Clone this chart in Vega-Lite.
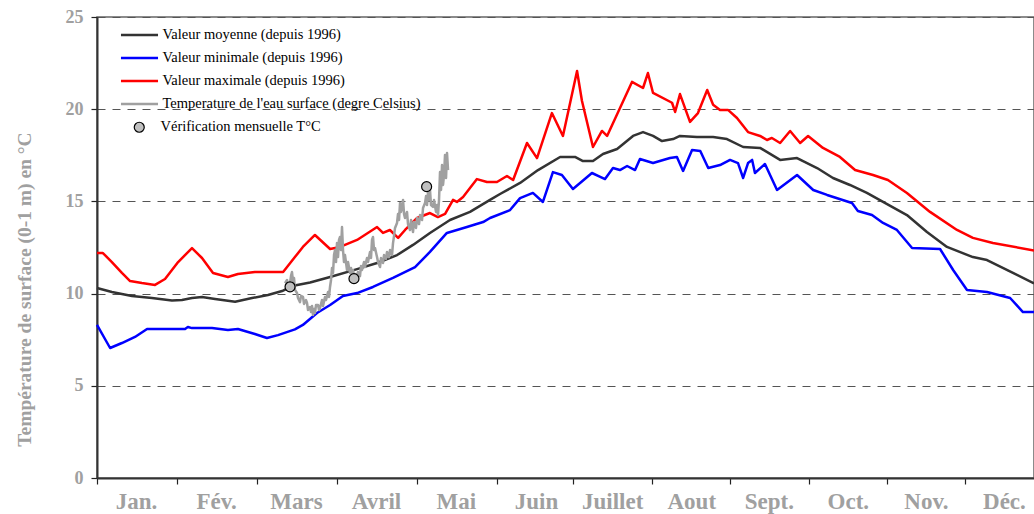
{
  "$schema": "https://vega.github.io/schema/vega-lite/v6.json",
  "width": 937,
  "height": 461,
  "autosize": {"type": "none"},
  "padding": {"left": 97, "top": 17, "right": 0, "bottom": 36},
  "background": "white",
  "config": {"view": {"stroke": "#666", "strokeWidth": 1.5}, "font": "Liberation Serif"},
  "datasets": {
    "lines": [
      {"s":"moy","d":0,"v":10.30},{"s":"moy","d":5.8,"v":10.09},{"s":"moy","d":13.6,"v":9.87},{"s":"moy","d":21.4,"v":9.76},{"s":"moy","d":29.2,"v":9.62},{"s":"moy","d":33.1,"v":9.65},{"s":"moy","d":37.0,"v":9.76},{"s":"moy","d":40.9,"v":9.82},{"s":"moy","d":46.0,"v":9.71},{"s":"moy","d":53.8,"v":9.56},{"s":"moy","d":60.4,"v":9.76},{"s":"moy","d":66.6,"v":9.92},{"s":"moy","d":72.1,"v":10.14},{"s":"moy","d":76.0,"v":10.41},{"s":"moy","d":83.0,"v":10.60},{"s":"moy","d":90.8,"v":10.90},{"s":"moy","d":101.3,"v":11.33},{"s":"moy","d":109.1,"v":11.66},{"s":"moy","d":116.9,"v":12.09},{"s":"moy","d":123.1,"v":12.64},{"s":"moy","d":129.7,"v":13.29},{"s":"moy","d":137.5,"v":13.99},{"s":"moy","d":145.3,"v":14.43},{"s":"moy","d":153.1,"v":15.08},{"s":"moy","d":157.0,"v":15.40},{"s":"moy","d":164.8,"v":16.0},{"s":"moy","d":171.8,"v":16.70},{"s":"moy","d":180.4,"v":17.41},{"s":"moy","d":186.2,"v":17.41},{"s":"moy","d":189.3,"v":17.19},{"s":"moy","d":193.2,"v":17.19},{"s":"moy","d":197.1,"v":17.57},{"s":"moy","d":202.6,"v":17.84},{"s":"moy","d":208.8,"v":18.55},{"s":"moy","d":212.7,"v":18.76},{"s":"moy","d":216.6,"v":18.55},{"s":"moy","d":220.1,"v":18.27},{"s":"moy","d":224.4,"v":18.38},{"s":"moy","d":227.1,"v":18.55},{"s":"moy","d":233.7,"v":18.49},{"s":"moy","d":240.0,"v":18.49},{"s":"moy","d":245.4,"v":18.38},{"s":"moy","d":251.7,"v":17.95},{"s":"moy","d":258.3,"v":17.90},{"s":"moy","d":266.1,"v":17.25},{"s":"moy","d":272.7,"v":17.35},{"s":"moy","d":280.5,"v":16.81},{"s":"moy","d":286.7,"v":16.27},{"s":"moy","d":293.3,"v":15.89},{"s":"moy","d":299.9,"v":15.46},{"s":"moy","d":306.2,"v":14.97},{"s":"moy","d":315.5,"v":14.26},{"s":"moy","d":323.3,"v":13.34},{"s":"moy","d":331.1,"v":12.53},{"s":"moy","d":341.2,"v":11.98},{"s":"moy","d":346.7,"v":11.82},{"s":"moy","d":356.8,"v":11.12},{"s":"moy","d":365,"v":10.55},
      {"s":"max","d":0,"v":12.20},{"s":"max","d":2.3,"v":12.20},{"s":"max","d":5.8,"v":11.71},{"s":"max","d":9.7,"v":11.12},{"s":"max","d":12.9,"v":10.68},{"s":"max","d":17.5,"v":10.57},{"s":"max","d":22.6,"v":10.47},{"s":"max","d":26.5,"v":10.79},{"s":"max","d":31.6,"v":11.71},{"s":"max","d":37.0,"v":12.47},{"s":"max","d":40.9,"v":11.93},{"s":"max","d":45.2,"v":11.12},{"s":"max","d":51.0,"v":10.90},{"s":"max","d":54.9,"v":11.06},{"s":"max","d":61.5,"v":11.17},{"s":"max","d":72.5,"v":11.17},{"s":"max","d":77.1,"v":11.98},{"s":"max","d":80.2,"v":12.53},{"s":"max","d":84.9,"v":13.18},{"s":"max","d":90.8,"v":12.42},{"s":"max","d":94.7,"v":12.53},{"s":"max","d":101.3,"v":12.91},{"s":"max","d":109.1,"v":13.61},{"s":"max","d":111.4,"v":13.29},{"s":"max","d":114.1,"v":13.45},{"s":"max","d":117.3,"v":13.02},{"s":"max","d":120.0,"v":13.45},{"s":"max","d":124.7,"v":14.10},{"s":"max","d":129.7,"v":14.37},{"s":"max","d":132.8,"v":14.15},{"s":"max","d":135.6,"v":14.32},{"s":"max","d":138.7,"v":15.08},{"s":"max","d":140.2,"v":14.97},{"s":"max","d":142.6,"v":15.24},{"s":"max","d":148.0,"v":16.21},{"s":"max","d":151.9,"v":16.05},{"s":"max","d":155.8,"v":16.05},{"s":"max","d":159.7,"v":16.38},{"s":"max","d":162.1,"v":16.16},{"s":"max","d":167.5,"v":18.17},{"s":"max","d":171.4,"v":17.35},{"s":"max","d":177.2,"v":19.79},{"s":"max","d":181.5,"v":18.55},{"s":"max","d":187.0,"v":22.07},{"s":"max","d":188.9,"v":20.46},{"s":"max","d":193.2,"v":17.95},{"s":"max","d":196.7,"v":18.82},{"s":"max","d":198.7,"v":18.55},{"s":"max","d":208.4,"v":21.48},{"s":"max","d":212.7,"v":21.15},{"s":"max","d":214.6,"v":21.96},{"s":"max","d":216.6,"v":20.88},{"s":"max","d":224.0,"v":20.35},{"s":"max","d":225.2,"v":19.85},{"s":"max","d":227.1,"v":20.82},{"s":"max","d":231.0,"v":19.31},{"s":"max","d":234.1,"v":19.79},{"s":"max","d":237.7,"v":21.04},{"s":"max","d":240.0,"v":20.24},{"s":"max","d":242.7,"v":19.96},{"s":"max","d":245.8,"v":19.96},{"s":"max","d":249.3,"v":19.52},{"s":"max","d":253.6,"v":18.76},{"s":"max","d":258.3,"v":18.55},{"s":"max","d":261.0,"v":18.33},{"s":"max","d":262.9,"v":18.44},{"s":"max","d":266.1,"v":18.17},{"s":"max","d":270.0,"v":18.82},{"s":"max","d":273.9,"v":18.17},{"s":"max","d":277.0,"v":18.55},{"s":"max","d":282.8,"v":17.90},{"s":"max","d":289.4,"v":17.41},{"s":"max","d":295.3,"v":16.70},{"s":"max","d":302.3,"v":16.43},{"s":"max","d":308.1,"v":16.16},{"s":"max","d":315.5,"v":15.46},{"s":"max","d":324.5,"v":14.43},{"s":"max","d":335.0,"v":13.45},{"s":"max","d":341.2,"v":13.02},{"s":"max","d":349.0,"v":12.74},{"s":"max","d":365,"v":12.34},
      {"s":"min","d":0,"v":8.30},{"s":"min","d":5.1,"v":7.05},{"s":"min","d":9.7,"v":7.32},{"s":"min","d":14.8,"v":7.65},{"s":"min","d":19.5,"v":8.08},{"s":"min","d":26.5,"v":8.08},{"s":"min","d":34.3,"v":8.08},{"s":"min","d":35.4,"v":8.19},{"s":"min","d":37.0,"v":8.13},{"s":"min","d":44.8,"v":8.13},{"s":"min","d":51.0,"v":8.03},{"s":"min","d":54.9,"v":8.08},{"s":"min","d":61.5,"v":7.81},{"s":"min","d":66.2,"v":7.59},{"s":"min","d":70.5,"v":7.75},{"s":"min","d":77.1,"v":8.06},{"s":"min","d":80.2,"v":8.30},{"s":"min","d":85.7,"v":8.95},{"s":"min","d":90.8,"v":9.38},{"s":"min","d":95.8,"v":9.87},{"s":"min","d":101.3,"v":10.03},{"s":"min","d":107.5,"v":10.36},{"s":"min","d":115.3,"v":10.85},{"s":"min","d":123.9,"v":11.44},{"s":"min","d":129.7,"v":12.26},{"s":"min","d":136.3,"v":13.29},{"s":"min","d":144.1,"v":13.61},{"s":"min","d":150.4,"v":13.88},{"s":"min","d":153.1,"v":14.10},{"s":"min","d":160.9,"v":14.53},{"s":"min","d":164.8,"v":15.18},{"s":"min","d":169.8,"v":15.46},{"s":"min","d":173.7,"v":14.97},{"s":"min","d":177.6,"v":16.59},{"s":"min","d":181.1,"v":16.43},{"s":"min","d":185.4,"v":15.67},{"s":"min","d":192.8,"v":16.54},{"s":"min","d":195.2,"v":16.38},{"s":"min","d":197.9,"v":16.21},{"s":"min","d":201.0,"v":16.81},{"s":"min","d":203.7,"v":16.70},{"s":"min","d":206.5,"v":16.92},{"s":"min","d":209.6,"v":16.70},{"s":"min","d":211.5,"v":17.30},{"s":"min","d":216.6,"v":17.08},{"s":"min","d":223.2,"v":17.35},{"s":"min","d":225.9,"v":17.41},{"s":"min","d":228.3,"v":16.65},{"s":"min","d":231.8,"v":17.79},{"s":"min","d":235.0,"v":17.73},{"s":"min","d":238.1,"v":16.81},{"s":"min","d":242.7,"v":16.97},{"s":"min","d":246.6,"v":17.25},{"s":"min","d":249.7,"v":17.08},{"s":"min","d":251.7,"v":16.27},{"s":"min","d":253.6,"v":17.08},{"s":"min","d":255.2,"v":17.25},{"s":"min","d":256.3,"v":16.54},{"s":"min","d":260.2,"v":17.03},{"s":"min","d":264.9,"v":15.62},{"s":"min","d":272.7,"v":16.43},{"s":"min","d":279.0,"v":15.62},{"s":"min","d":284.4,"v":15.35},{"s":"min","d":294.1,"v":14.91},{"s":"min","d":296.4,"v":14.48},{"s":"min","d":301.9,"v":14.26},{"s":"min","d":306.2,"v":13.83},{"s":"min","d":311.6,"v":13.45},{"s":"min","d":317.5,"v":12.47},{"s":"min","d":328.4,"v":12.42},{"s":"min","d":333.5,"v":11.28},{"s":"min","d":338.9,"v":10.20},{"s":"min","d":346.7,"v":10.09},{"s":"min","d":355.7,"v":9.76},{"s":"min","d":360.7,"v":9.0},{"s":"min","d":365,"v":9.0},
      {"s":"eau","d":73.24,"v":10.57},{"s":"eau","d":74.02,"v":10.74},{"s":"eau","d":74.80,"v":10.20},{"s":"eau","d":75.57,"v":10.95},{"s":"eau","d":75.96,"v":11.17},{"s":"eau","d":76.35,"v":10.63},{"s":"eau","d":76.74,"v":10.85},{"s":"eau","d":77.13,"v":10.20},{"s":"eau","d":77.91,"v":10.03},{"s":"eau","d":78.30,"v":9.76},{"s":"eau","d":79.08,"v":9.54},{"s":"eau","d":79.47,"v":9.87},{"s":"eau","d":80.25,"v":9.82},{"s":"eau","d":80.64,"v":9.44},{"s":"eau","d":81.42,"v":9.65},{"s":"eau","d":81.81,"v":9.49},{"s":"eau","d":82.20,"v":9.11},{"s":"eau","d":82.98,"v":9.27},{"s":"eau","d":83.37,"v":9.00},{"s":"eau","d":83.76,"v":9.33},{"s":"eau","d":84.14,"v":8.84},{"s":"eau","d":84.53,"v":9.16},{"s":"eau","d":84.92,"v":8.95},{"s":"eau","d":85.31,"v":9.38},{"s":"eau","d":86.09,"v":9.38},{"s":"eau","d":86.48,"v":9.11},{"s":"eau","d":86.87,"v":9.22},{"s":"eau","d":87.65,"v":9.65},{"s":"eau","d":88.04,"v":9.33},{"s":"eau","d":88.82,"v":9.82},{"s":"eau","d":89.21,"v":9.65},{"s":"eau","d":89.99,"v":10.09},{"s":"eau","d":90.38,"v":9.82},{"s":"eau","d":90.77,"v":10.36},{"s":"eau","d":91.16,"v":10.74},{"s":"eau","d":91.55,"v":11.39},{"s":"eau","d":91.94,"v":11.12},{"s":"eau","d":92.33,"v":12.09},{"s":"eau","d":92.72,"v":12.36},{"s":"eau","d":93.10,"v":11.71},{"s":"eau","d":93.49,"v":12.74},{"s":"eau","d":93.88,"v":11.98},{"s":"eau","d":94.27,"v":12.91},{"s":"eau","d":94.66,"v":13.07},{"s":"eau","d":95.05,"v":12.36},{"s":"eau","d":95.44,"v":13.61},{"s":"eau","d":95.83,"v":12.36},{"s":"eau","d":96.22,"v":11.71},{"s":"eau","d":96.61,"v":12.09},{"s":"eau","d":97.39,"v":11.28},{"s":"eau","d":97.78,"v":11.71},{"s":"eau","d":98.56,"v":11.12},{"s":"eau","d":98.95,"v":11.39},{"s":"eau","d":99.34,"v":10.95},{"s":"eau","d":99.73,"v":11.28},{"s":"eau","d":100.51,"v":10.63},{"s":"eau","d":100.90,"v":11.06},{"s":"eau","d":101.29,"v":10.74},{"s":"eau","d":101.68,"v":11.17},{"s":"eau","d":102.45,"v":10.95},{"s":"eau","d":102.84,"v":11.50},{"s":"eau","d":103.23,"v":11.28},{"s":"eau","d":104.01,"v":11.71},{"s":"eau","d":104.40,"v":11.44},{"s":"eau","d":105.18,"v":11.93},{"s":"eau","d":105.57,"v":11.71},{"s":"eau","d":106.35,"v":12.26},{"s":"eau","d":106.74,"v":11.93},{"s":"eau","d":107.13,"v":12.91},{"s":"eau","d":107.52,"v":13.07},{"s":"eau","d":107.91,"v":12.36},{"s":"eau","d":108.30,"v":12.47},{"s":"eau","d":109.08,"v":11.98},{"s":"eau","d":109.47,"v":11.71},{"s":"eau","d":110.25,"v":11.44},{"s":"eau","d":110.63,"v":11.93},{"s":"eau","d":111.41,"v":11.66},{"s":"eau","d":111.80,"v":12.09},{"s":"eau","d":112.58,"v":11.88},{"s":"eau","d":112.97,"v":12.26},{"s":"eau","d":113.75,"v":11.98},{"s":"eau","d":114.14,"v":12.36},{"s":"eau","d":114.92,"v":12.09},{"s":"eau","d":115.31,"v":12.74},{"s":"eau","d":115.70,"v":13.12},{"s":"eau","d":116.09,"v":13.56},{"s":"eau","d":116.87,"v":13.83},{"s":"eau","d":117.26,"v":14.32},{"s":"eau","d":117.65,"v":13.99},{"s":"eau","d":118.04,"v":14.91},{"s":"eau","d":118.43,"v":14.43},{"s":"eau","d":118.82,"v":14.75},{"s":"eau","d":119.21,"v":15.08},{"s":"eau","d":119.60,"v":14.32},{"s":"eau","d":119.98,"v":14.10},{"s":"eau","d":120.76,"v":14.43},{"s":"eau","d":121.15,"v":13.77},{"s":"eau","d":121.93,"v":13.45},{"s":"eau","d":122.32,"v":13.99},{"s":"eau","d":123.10,"v":13.34},{"s":"eau","d":123.49,"v":13.88},{"s":"eau","d":124.27,"v":13.56},{"s":"eau","d":124.66,"v":14.10},{"s":"eau","d":125.44,"v":13.77},{"s":"eau","d":125.83,"v":14.26},{"s":"eau","d":126.61,"v":13.99},{"s":"eau","d":127.00,"v":14.64},{"s":"eau","d":127.78,"v":14.91},{"s":"eau","d":128.17,"v":15.29},{"s":"eau","d":128.55,"v":14.80},{"s":"eau","d":128.94,"v":15.46},{"s":"eau","d":129.33,"v":15.08},{"s":"eau","d":129.72,"v":15.62},{"s":"eau","d":130.11,"v":14.80},{"s":"eau","d":130.89,"v":14.70},{"s":"eau","d":131.28,"v":15.08},{"s":"eau","d":132.06,"v":14.43},{"s":"eau","d":132.45,"v":14.80},{"s":"eau","d":132.84,"v":14.26},{"s":"eau","d":133.23,"v":15.08},{"s":"eau","d":133.62,"v":16.59},{"s":"eau","d":134.01,"v":15.62},{"s":"eau","d":134.40,"v":16.97},{"s":"eau","d":134.79,"v":15.89},{"s":"eau","d":135.18,"v":16.43},{"s":"eau","d":135.57,"v":17.52},{"s":"eau","d":135.96,"v":16.27},{"s":"eau","d":136.35,"v":17.62},{"s":"eau","d":136.74,"v":16.70}
    ],
    "verif": [
      {"d": 75.2, "v": 10.37},
      {"d": 100.1, "v": 10.81},
      {"d": 128.4, "v": 15.80}
    ]
  },
  "encoding": {
    "x": {
      "field": "d", "type": "quantitative",
      "scale": {"domain": [0, 365], "nice": false, "zero": false},
      "axis": {
        "title": null,
        "values": [0, 31.2, 62.3, 93.5, 124.6, 155.8, 185.5, 216.3, 246.5, 277.3, 307.7, 338.1],
        "labelExpr": "['Jan.','Fév.','Mars','Avril','Mai','Juin','Juillet','Aout','Sept.','Oct.','Nov.','Déc.'][floor(datum.value/30.5)]",
        "labelOffset": 39, "labelFlush": false, "labelOverlap": false, "labelBound": false,
        "labelFont": "Liberation Serif", "labelFontSize": 23, "labelFontWeight": "bold", "labelColor": "#a0a0a0",
        "labelPadding": 6, "tickColor": "#222", "tickSize": 6, "tickWidth": 1.2,
        "domainColor": "#333", "domainWidth": 2, "grid": false
      }
    },
    "y": {
      "field": "v", "type": "quantitative",
      "scale": {"domain": [0, 25], "nice": false},
      "axis": {
        "title": "Température de surface (0-1 m) en °C",
        "values": [0, 5, 10, 15, 20, 25],
        "grid": true, "gridDash": [8, 7], "gridColor": "#555", "gridWidth": 1,
        "labelFont": "Liberation Serif", "labelFontSize": 18, "labelFontWeight": "bold", "labelColor": "#a0a0a0",
        "labelPadding": 8, "tickColor": "#222", "tickSize": 6, "tickWidth": 1.2,
        "domainColor": "#333", "domainWidth": 2,
        "titleFont": "Liberation Serif", "titleFontSize": 19.5, "titleFontWeight": "bold", "titleColor": "#a0a0a0",
        "titlePadding": 31, "titleY": 272
      }
    }
  },
  "layer": [
    {
      "data": {"name": "lines"},
      "encoding": {
        "color": {
          "field": "s", "type": "nominal",
          "scale": {"domain": ["moy", "min", "max", "eau"], "range": ["#333333", "#0000ff", "#ff0000", "#a0a0a0"]},
          "legend": {
            "title": null, "orient": "none", "legendX": 31.5, "legendY": 7,
            "symbolType": "M-1.95,0H1.95", "symbolSize": 361, "labelLimit": 0,
            "labelExpr": "{'moy':'Valeur moyenne (depuis 1996)','min':'Valeur minimale (depuis 1996)','max':'Valeur maximale (depuis 1996)','eau':\"Temperature de l'eau surface (degre Celsius)\"}[datum.value]",
            "labelFont": "Liberation Serif", "labelFontSize": 14.5, "labelColor": "black",
            "labelOffset": 12, "rowPadding": 5
          }
        },
        "strokeWidth": {
          "field": "s", "type": "nominal",
          "scale": {"domain": ["moy", "min", "max", "eau"], "range": [2.5, 2.5, 2.5, 1]},
          "legend": {
            "title": null, "orient": "none", "legendX": 31.5, "legendY": 7,
            "symbolType": "M-1.95,0H1.95", "symbolSize": 361, "labelLimit": 0,
            "labelExpr": "{'moy':'Valeur moyenne (depuis 1996)','min':'Valeur minimale (depuis 1996)','max':'Valeur maximale (depuis 1996)','eau':\"Temperature de l'eau surface (degre Celsius)\"}[datum.value]",
            "labelFont": "Liberation Serif", "labelFontSize": 14.5, "labelColor": "black",
            "labelOffset": 12, "rowPadding": 5
          }
        }
      },
      "layer": [
        {"transform": [{"filter": "datum.s != 'eau'"}], "mark": {"type": "line", "strokeJoin": "round"}},
        {"transform": [{"filter": "datum.s == 'eau'"}], "mark": {"type": "line", "strokeJoin": "round"}}
      ]
    },
    {
      "data": {"name": "verif"},
      "mark": {"type": "point", "filled": true, "stroke": "black", "strokeWidth": 1.2, "size": 100, "opacity": 1},
      "encoding": {
        "fill": {
          "datum": "Vérification mensuelle T°C",
          "scale": {"range": ["#c0c0c0"]},
          "legend": {
            "title": null, "orient": "none", "legendX": 35, "legendY": 103,
            "symbolType": "circle", "symbolSize": 100, "symbolStrokeColor": "black", "symbolStrokeWidth": 1.2,
            "labelFont": "Liberation Serif", "labelFontSize": 14.5, "labelColor": "black", "labelOffset": 14, "labelLimit": 0
          }
        }
      }
    }
  ]
}
